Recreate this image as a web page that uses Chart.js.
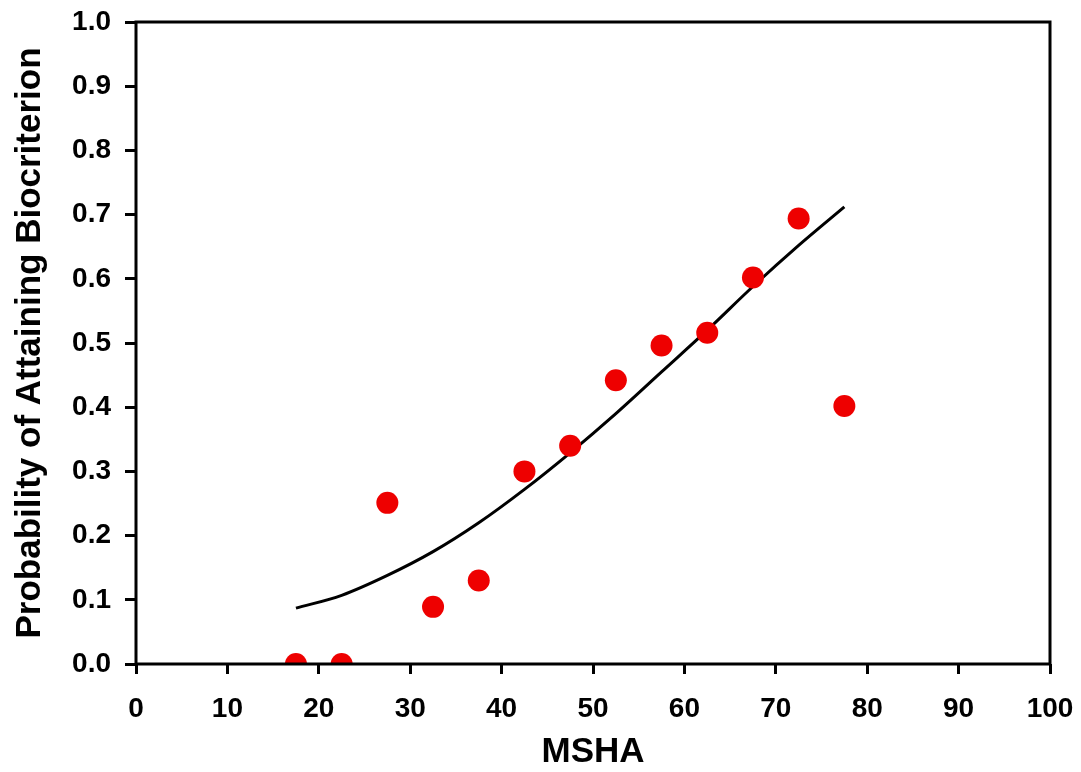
<!DOCTYPE html>
<html>
<head>
<meta charset="utf-8">
<script src="https://cdn.jsdelivr.net/npm/chart.js@4/dist/chart.umd.min.js"></script>
<style>
  body { margin: 0; background: #fff; }
  canvas { display: block; }
</style>
</head>
<body>
<canvas id="myChart" width="1081" height="772"></canvas>
<script>
// MSHA class midpoints
const mshaValues = [17.5, 22.5, 27.5, 32.5, 37.5, 42.5, 47.5, 52.5, 57.5, 62.5, 67.5, 72.5, 77.5];
// observed proportion attaining biocriterion
const observedProb = [0.0, 0.0, 0.251, 0.089, 0.130, 0.300, 0.340, 0.442, 0.496, 0.516, 0.602, 0.694, 0.402];
// fitted logistic curve
const fittedProb = [0.087, 0.107, 0.138, 0.175, 0.220, 0.272, 0.329, 0.390, 0.455, 0.520, 0.588, 0.652, 0.712];

const xTitle = "MSHA";
const yTitle = "Probability of Attaining Biocriterion";

const fontFamily = "'Liberation Sans', Arial, sans-serif";

// full frame round the plot area
const boxPlugin = {
  id: "box",
  afterDraw(chart) {
    const { ctx, chartArea } = chart;
    ctx.save();
    ctx.strokeStyle = "#000";
    ctx.lineWidth = 3;
    ctx.strokeRect(chartArea.left, chartArea.top, chartArea.right - chartArea.left, chartArea.bottom - chartArea.top);
    ctx.restore();
  }
};

const toPoints = (xs, ys) => xs.map((x, i) => ({ x: x, y: ys[i] }));

const ctx = document.getElementById("myChart").getContext("2d");

const myChart = new Chart(ctx, {
  type: "scatter",
  data: {
    datasets: [
      {
        label: "Observed",
        data: toPoints(mshaValues, observedProb),
        backgroundColor: "#ee0000",
        borderColor: "#ee0000",
        pointRadius: 11,
        pointBorderWidth: 0,
        showLine: false,
      },
      {
        label: "Fitted",
        data: toPoints(mshaValues, fittedProb),
        borderColor: "#000",
        borderWidth: 3,
        pointRadius: 0,
        showLine: true,
        cubicInterpolationMode: "monotone",
      },
    ],
  },
  options: {
    responsive: false,
    animation: false,
    layout: {
      padding: { top: 22, right: 31, left: 0, bottom: 0 },
    },
    plugins: {
      legend: { display: false },
      tooltip: { enabled: false },
    },
    scales: {
      x: {
        type: "linear",
        min: 0,
        max: 100,
        afterFit: (s) => {
          s.height = 108;
          s.paddingLeft = 0;
          s.paddingRight = 0;
        },
        ticks: {
          stepSize: 10,
          padding: 18,
          color: "#000",
          font: { family: fontFamily, size: 28, weight: "bold" },
          maxRotation: 0,
        },
        grid: {
          drawOnChartArea: false,
          drawTicks: true,
          tickLength: 10,
          tickWidth: 3,
          tickColor: "#000",
        },
        border: { display: false },
        title: {
          display: true,
          text: xTitle,
          color: "#000",
          font: { family: fontFamily, size: 35, weight: "bold", lineHeight: 1 },
          padding: { top: 0, bottom: 2 },
        },
      },
      y: {
        min: 0,
        max: 1,
        afterFit: (s) => {
          s.width = 136;
          s.paddingTop = 0;
          s.paddingBottom = 0;
        },
        ticks: {
          stepSize: 0.1,
          padding: 14,
          color: "#000",
          font: { family: fontFamily, size: 28, weight: "bold" },
          callback: (v) => v.toFixed(1),
        },
        grid: {
          drawOnChartArea: false,
          drawTicks: true,
          tickLength: 11,
          tickWidth: 3,
          tickColor: "#000",
        },
        border: { display: false },
        title: {
          display: true,
          text: yTitle,
          color: "#000",
          font: { family: fontFamily, size: 35, weight: "bold", lineHeight: 1 },
          padding: { top: 13, bottom: 0 },
        },
      },
    },
  },
  plugins: [boxPlugin],
});
</script>
</body>
</html>
